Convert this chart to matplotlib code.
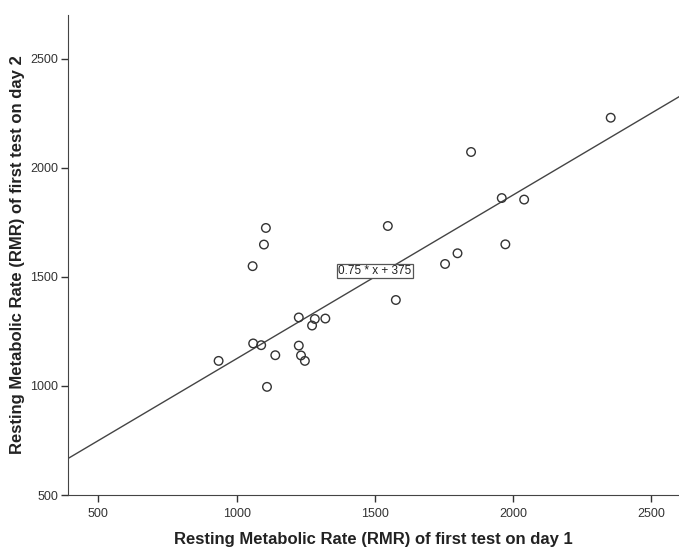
import matplotlib.pyplot as plt
import numpy as np

plt.rcParams['font.family'] = ['Liberation Sans', 'DejaVu Sans']

# RMR day 1 vs day 2
rmr_day1 = [935, 1058, 1099, 1106, 1060, 1089, 1140, 1110, 1225, 1283, 1273, 1321,
            1225, 1233, 1247, 1547, 1576, 1754, 1848, 1959, 2040, 2353, 1799, 1972]
rmr_day2 = [1115, 1549, 1648, 1724, 1195, 1187, 1141, 996, 1314, 1307, 1277, 1309,
            1185, 1140, 1115, 1733, 1394, 1559, 2072, 1861, 1854, 2229, 1608, 1649]

slope = 0.75
intercept = 375
x_ticks = [500, 1000, 1500, 2000, 2500]
y_ticks = [500, 1000, 1500, 2000, 2500]

fig = plt.figure(figsize=(6.79, 5.52), dpi=100)
ax = fig.add_axes([0.1, 0.103, 0.9, 0.87])

ax.scatter(rmr_day1, rmr_day2, s=38, facecolors='none', edgecolors='#333333',
           linewidths=1.0, zorder=3)

xl = np.array([390, 2600])
ax.plot(xl, slope * xl + intercept, color='#444444', lw=1.0, zorder=2)

ax.text(1500, 1527, '0.75 * x + 375', fontsize=8.5, ha='center', va='center',
        color='#222222',
        bbox=dict(boxstyle='square,pad=0.1', fc='white', ec='#555555', lw=0.9))

ax.set_xlim(390, 2600)
ax.set_ylim(500, 2700)
ax.set_xticks(x_ticks)
ax.set_yticks(y_ticks)
ax.tick_params(labelsize=9, colors='#333333', length=5, width=1, direction='out',
               pad=4)
ax.tick_params(axis='y', pad=2)
for s in ['top', 'right']:
    ax.spines[s].set_visible(False)
for s in ['left', 'bottom']:
    ax.spines[s].set_color('#444444')

ax.set_xlabel('Resting Metabolic Rate (RMR) of first test on day 1', fontsize=12,
              fontweight='bold', color='#222222', labelpad=9)
ax.set_ylabel('Resting Metabolic Rate (RMR) of first test on day 2', fontsize=12,
              fontweight='bold', color='#222222', labelpad=4)

fig.savefig('out.png', dpi=100)
